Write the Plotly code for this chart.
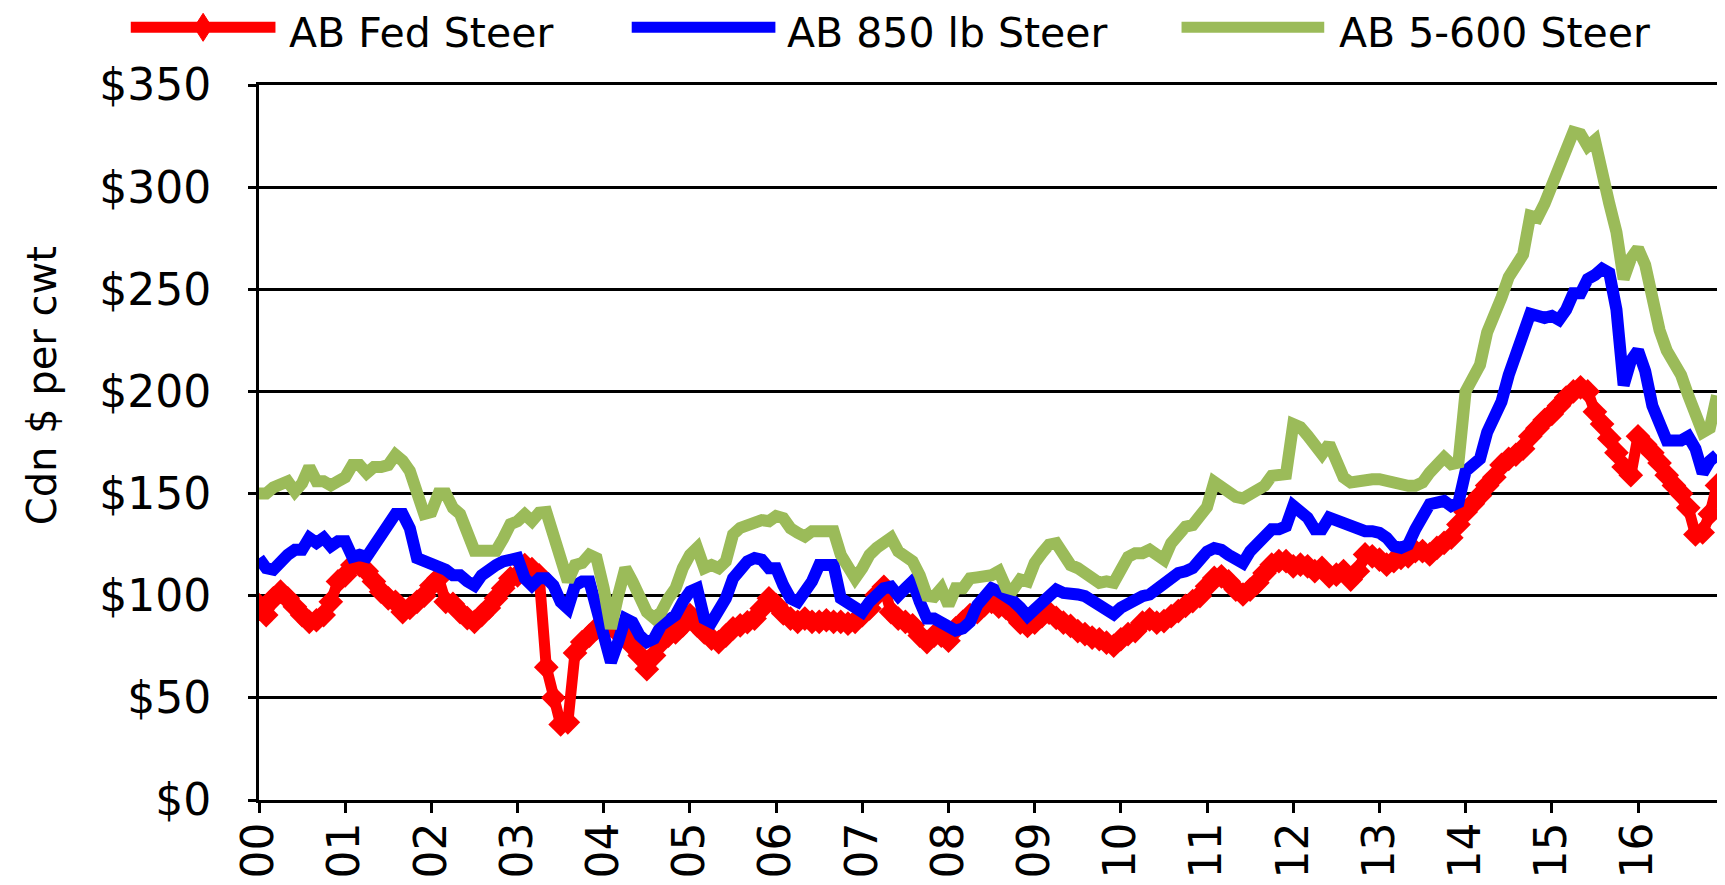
import plotly.graph_objects as go

# ---------------- data (monthly, Jan 2000 - Dec 2016) ----------------
months = list(range(204))

fed_steer = [
    95.4, 90.5, 98.7, 102, 98.7, 94.6, 90.5, 87.2, 88, 90.5, 97, 107,
    110, 115, 115, 112, 107, 102, 98.7, 97, 92, 94, 97, 100,
    105, 108.5, 97, 96, 92, 89, 87.2, 90.5, 94, 98.7, 103.6, 108.5,
    110, 115, 113, 110, 65, 50, 37, 38, 72, 77.3, 80.5, 84,
    84, 85.5, 82, 80.5, 75.6, 70.7, 64, 70.7, 77.3, 80.5, 82, 85.5,
    90.5, 85.5, 82, 79, 77.3, 80.5, 84, 85.5, 87, 88.8, 93.8, 98.7,
    95.4, 91.3, 88.8, 87.2, 88.8, 87.2, 87.2, 88, 87.2, 87.2, 86.3, 87.2,
    90.5, 93.8, 100.4, 104.4, 92, 88.8, 87.2, 85.5, 80.5, 77.3, 80.5, 80.5,
    78, 84, 87.2, 90.5, 92, 95.4, 97, 94.6, 94, 90.9, 86.8, 85.2,
    86.8, 90, 91.7, 89.2, 86.8, 85.2, 82.7, 81.2, 79.5, 78.7, 77, 75.5,
    78.7, 81.2, 82.7, 86.8, 88.4, 86.8, 87.6, 90, 92.5, 95, 97.4, 99.8,
    104.6, 108.7, 109.5, 107, 103, 100.6, 103, 106.3, 111.1, 115.2, 116.9, 116.9,
    114.4, 115.2, 114.4, 112, 113.6, 109.5, 110.3, 112, 107.9, 112, 120.2, 119.3,
    117.7, 115.2, 116.9, 118.5, 119.3, 121.8, 121.8, 120.2, 123.4, 125.9, 128.4, 134.9,
    141, 145, 149, 154, 158, 164, 167, 169, 172, 178, 182, 186,
    189, 193, 197, 200, 202, 200, 190, 184, 177, 170, 163, 159,
    178, 174, 170, 165, 159, 154, 150, 143, 130, 131, 140, 154,
]

steer_850 = [
    118.4, 113.5, 112.7, 116.8, 120, 122.5, 122.5, 128.3, 125.8, 128.3, 124.2, 126.6,
    126.6, 119, 120, 119, 124, 130, 135, 140, 140, 133, 118.4, 116.8,
    116.8, 115, 112.7, 110, 110, 107, 105, 110, 113.5, 115, 116.8, 118,
    118.4, 108.5, 105, 108.5, 108.5, 105, 97, 93.8, 105, 107, 107, 93.8,
    79, 67.4, 77.3, 88.8, 87, 80.5, 77.3, 79, 85.5, 88.8, 90.5, 97,
    102, 103.6, 88.8, 87, 92, 98.7, 108.5, 113.5, 116.8, 118.4, 117.6, 113.5,
    113.5, 105, 98.7, 97, 102, 107, 115, 115, 115, 98.7, 96, 93.8,
    92, 97, 100, 103.6, 104.4, 100, 103.6, 107, 97, 88.8, 88.8, 87.2,
    84, 83, 84, 87.2, 95.4, 100, 103.6, 102, 100, 97.4, 94.1, 90,
    93.3, 96.5, 99, 103, 101.4, 101.4, 100.6, 99.8, 97.4, 94.9, 92.5, 90.9,
    94.1, 96.5, 98.2, 99.8, 100.6, 103, 105.5, 109.5, 111.1, 112, 113.5, 117.6,
    121.6, 123.3, 122.5, 120, 118.4, 116, 121.8, 125, 130, 132.5, 132.5, 134,
    144, 141.5, 138.2, 132.5, 132.5, 138.2, 136.6, 135, 134, 131.6, 131.6, 131.6,
    130.8, 128.4, 124.3, 123.4, 125, 132.5, 139.8, 144.8, 145.6, 146.4, 143.9, 145.6,
    161, 165, 167, 180, 187, 195, 208, 220, 228, 238, 237, 236,
    237, 235, 240, 248, 248, 255, 257, 260, 258, 240, 203, 215,
    220, 210, 193, 183, 176, 176, 176, 178, 172, 160, 166, 169,
]

steer_5600 = [
    150, 150, 153, 155, 156, 151, 155, 163, 156, 156, 154, 156,
    158, 164, 164, 160, 163, 163, 164, 169, 166, 161, 148, 140,
    141, 150, 150, 143, 140, 132, 122, 122, 122, 122, 128, 135,
    136.5, 139.8, 136.5, 140.6, 141, 130, 117, 107, 115, 116, 120, 118.4,
    103.6, 84, 100, 113.5, 107, 98.7, 92, 89, 92, 98.7, 103.6, 113.5,
    120, 123.4, 113.5, 115, 113.5, 116.8, 130, 133.2, 135, 136.5, 137, 136.5,
    139, 138, 133, 130.8, 129, 131.6, 131.6, 131.6, 131.6, 120, 113.5, 108.5,
    113.5, 120, 123.4, 126.6, 128.3, 121.7, 118.4, 116.8, 110, 100, 99.5, 103.6,
    95.4, 103.6, 103.6, 108.5, 109, 109, 110, 112, 104, 103, 108, 107,
    116, 120.8, 125, 125.7, 120.8, 115, 113.5, 111, 107, 106.3, 107, 106.3,
    112.7, 119, 120.8, 120.8, 122.5, 120, 117.6, 125.7, 129, 133.8, 134.6, 138.7,
    143.5, 155.7, 153, 150, 148.4, 147.6, 150, 151.3, 153.8, 158.7, 158.7, 159.5,
    184, 182.5, 178.4, 172.6, 169.3, 174.3, 164.4, 157.9, 155.4, 156.2, 157, 157,
    157, 156.2, 154.6, 153.8, 153.8, 153.8, 155.4, 160.3, 164.4, 167.7, 164.4, 165.2,
    200, 207, 213, 229, 236, 246, 256, 262, 267, 286, 285, 292,
    301, 307, 318, 327, 326, 320, 323, 310, 292, 278, 255, 265,
    270, 262, 245, 230, 220, 214, 208, 198, 189, 180, 182, 198,
]

series_names = ["AB Fed Steer", "AB 850 lb Steer", "AB 5-600 Steer"]
x_tick_vals = [0, 12, 24, 36, 48, 60, 72, 84, 96, 108, 120, 132, 144, 156, 168, 180, 192]
x_tick_labels = ["00", "01", "02", "03", "04", "05", "06", "07", "08",
                 "09", "10", "11", "12", "13", "14", "15", "16"]
y_tick_vals = [0, 50, 100, 150, 200, 250, 300, 350]
y_tick_labels = ["$0", "$50", "$100", "$150", "$200", "$250", "$300", "$350"]
y_title = "Cdn $ per cwt"

# ---------------- styling ----------------
RED, BLUE, GREEN = "#FF0000", "#0000FF", "#9BBB59"
FONT = "DejaVu Sans"
OFF = 8                      # default page body margin
W, H = 1725 - OFF, 885 - OFF
# plot area in page pixels: x 258.5..1719.6, y 84.7..799.8
L = 258.5 - OFF
T = 84.7 - OFF
R = W - (1719.6 - OFF)
B = H - (799.8 - OFF)
PW, PH = W - L - R, H - T - B


def px_x(page_px):
    return (page_px - OFF - L) / PW


def px_y(page_py):
    return (H - B - (page_py - OFF)) / PH


fig = go.Figure()
fig.add_trace(go.Scatter(x=months, y=fed_steer, name=series_names[0], mode="lines+markers",
                         line=dict(color=RED, width=11),
                         marker=dict(symbol="diamond", size=19, color=RED)))
fig.add_trace(go.Scatter(x=months, y=steer_850, name=series_names[1], mode="lines",
                         line=dict(color=BLUE, width=12)))
fig.add_trace(go.Scatter(x=months, y=steer_5600, name=series_names[2], mode="lines",
                         line=dict(color=GREEN, width=12)))

fig.update_layout(
    width=W, height=H,
    margin=dict(l=L, r=R, t=T, b=B, pad=0),
    paper_bgcolor="white", plot_bgcolor="white",
    showlegend=False,
    font=dict(family=FONT, size=42, color="black"),
)

fig.update_xaxes(
    range=[0, 203], tickmode="array", tickvals=x_tick_vals, ticktext=x_tick_labels,
    tickangle=-90, ticks="outside", ticklen=10, tickwidth=3, tickcolor="black",
    showgrid=False, zeroline=False, showline=True, linewidth=3, linecolor="black",
    mirror=True, tickfont=dict(family=FONT, size=44, color="black"),
    ticklabelstandoff=-8,
)
fig.update_yaxes(
    range=[0, 350], tickmode="array", tickvals=y_tick_vals, ticktext=y_tick_labels,
    ticks="outside", ticklen=8, tickwidth=3, tickcolor="black",
    showgrid=True, gridcolor="black", gridwidth=3, zeroline=False,
    showline=True, linewidth=3, linecolor="black", mirror=True,
    tickfont=dict(family=FONT, size=44, color="black"), ticklabelstandoff=28,
)

# y axis title
fig.add_annotation(text=y_title, xref="paper", yref="paper", x=px_x(41), y=px_y(385),
                   textangle=-90, showarrow=False, xanchor="center", yanchor="middle",
                   font=dict(family=FONT, size=40, color="black"))

# manual legend
legend_items = [
    (series_names[0], RED, 130, 275, 288),
    (series_names[1], BLUE, 632, 776, 787),
    (series_names[2], GREEN, 1183, 1326, 1340),
]
ly = 27
for name, col, x0, x1, tx in legend_items:
    fig.add_shape(type="line", xref="paper", yref="paper",
                  x0=px_x(x0), x1=px_x(x1), y0=px_y(ly), y1=px_y(ly),
                  line=dict(color=col, width=11))
    fig.add_annotation(text=name, xref="paper", yref="paper", x=px_x(tx), y=px_y(ly + 6),
                       showarrow=False, xanchor="left", yanchor="middle", borderpad=0,
                       font=dict(family=FONT, size=41, color="black"))

# diamond marker in the red legend sample
cx, cy, hw, hh = (130 + 275) / 2, ly, 9, 14
path = "M {},{} L {},{} L {},{} L {},{} Z".format(
    px_x(cx), px_y(cy - hh), px_x(cx + hw), px_y(cy), px_x(cx), px_y(cy + hh), px_x(cx - hw), px_y(cy))
fig.add_shape(type="path", xref="paper", yref="paper", path=path,
              fillcolor=RED, line=dict(color=RED, width=1))

fig.write_html("out.html")
